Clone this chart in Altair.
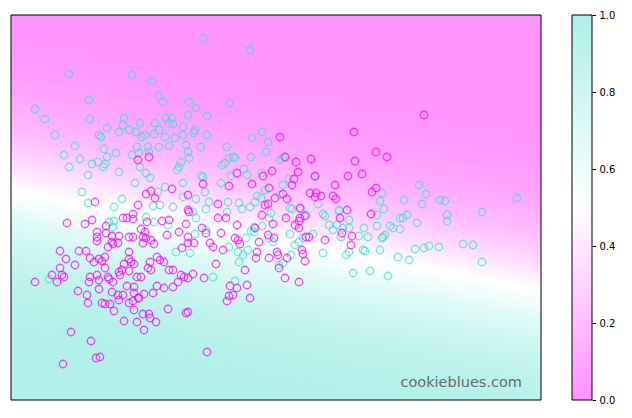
import altair as alt
import pandas as pd

# Plot extent (arbitrary units, no axes shown)
x_domain = [0, 530]
y_domain = [0, 385]

# Class "turquoise" points
turq_x = [58,121,141,78,148,152,178,24,34,79,113,112,96,129,144,155,161,158,162,177,172,118,108,125,148,134,131,143,154,164,172,44,88,90,64,93,105,126,137,148,158,175,121,128,138,177,53,69,96,87,81,94,92,58,108,77,129,135,139,124,170,168,166,178,172,71,77,111,103,142,149,154,162,147,172,
          192,239,185,196,219,184,183,196,251,241,257,190,216,255,218,222,224,214,211,240,269,272,233,236,220,190,192,194,210,251,272,278,304,246,254,244,250,269,185,198,217,228,239,307,279,290,328,
          371,369,373,393,408,415,411,429,434,506,471,
          366,436,436,353,366,379,382,389,389,392,396,406,357,372,374,371,352,354,369,387,398,404,413,418,428,452,462,471,359,377,
          185,182,195,216,231,260,258,281,295,312,314,328,338,318,322,326,332,338,348,330,338,335,342,312,302,292,288,284,279,251,243,243,240,258,262,235,218,227,232,228,237,280,272,268,224,195,184,179,202,
          98,103,102,135,143,157,165,38]
turq_y = [326,325,319,300,304,298,298,291,281,281,282,275,272,277,277,282,282,277,276,285,273,270,268,268,270,265,263,266,263,262,265,265,265,263,254,251,247,253,253,253,254,255,245,247,248,248,245,241,243,238,236,236,233,233,228,225,233,227,222,217,238,233,230,242,217,208,197,201,193,194,195,213,193,208,203,
          362,350,292,284,297,270,267,265,268,262,258,253,253,248,242,243,242,237,235,243,240,242,231,225,224,224,223,208,217,227,215,221,223,204,210,198,202,205,201,198,198,197,193,196,192,191,190,
          207,199,191,200,215,206,196,200,199,202,188,
          185,185,179,172,174,174,172,171,182,182,185,177,163,163,165,162,150,149,150,143,140,151,152,154,153,156,155,138,129,124,
          182,188,191,188,191,187,182,191,185,186,184,189,180,175,170,175,172,172,164,163,148,145,127,147,166,162,158,155,166,174,173,168,169,162,158,162,153,148,145,138,150,145,137,135,119,170,166,147,123,
          178,179,173,183,178,175,148,121]

# Class "magenta" points
mag_x = [127,138,135,140,144,161,177,84,127,177,
         269,343,274,285,300,344,226,261,252,287,283,281,304,337,351,192,218,241,324,258,299,305,310,304,322,325,264,276,272,207,254,257,289,336,
         413,365,376,365,361,360,
         178,207,215,251,275,294,289,288,284,288,329,331,341,340,314,295,298,291,292,294,262,244,257,263,226,224,227,229,246,248,245,258,266,267,276,268,274,288,234,219,226,236,239,222,218,216,205,212,199,202,210,195,191,183,177,177,182,193,177,177,175,196,
         56,74,81,95,112,116,122,122,136,151,158,130,134,132,135,140,132,143,156,168,175,171,86,86,86,95,101,108,101,97,102,107,94,118,122,118,49,68,75,55,64,49,79,88,91,83,94,118,120,123,113,111,108,118,109,139,137,140,146,149,153,158,162,170,173,41,51,53,46,24,79,78,86,88,97,98,102,116,123,130,126,88,101,107,108,112,123,127,133,142,146,153,162,167,67,76,77,91,94,99,103,118,122,123,128,132,138,139,145,126,113,133,157,60,80,85,89,52]
mag_y = [240,243,206,209,202,211,205,198,195,190,
         263,268,243,238,241,239,227,229,224,228,221,215,224,224,226,216,214,216,215,212,207,207,204,203,204,201,202,201,206,196,195,196,192,190,
         285,248,243,212,208,186,
         188,182,182,185,182,184,182,179,175,172,182,167,164,155,160,163,163,150,146,139,176,172,165,162,175,162,160,156,148,158,142,142,148,145,142,132,122,118,130,114,112,115,102,105,104,99,136,150,157,153,167,167,172,157,163,157,126,122,122,88,87,48,
         177,176,180,174,182,182,181,186,178,179,180,171,168,163,162,160,157,156,165,168,176,152,168,163,159,167,164,164,158,153,156,157,143,163,163,148,149,149,149,141,135,132,142,141,139,138,132,141,138,136,136,130,128,129,125,138,132,130,143,140,138,130,130,125,123,125,125,123,118,118,123,118,125,120,123,121,118,114,113,123,123,111,108,105,100,105,107,102,106,107,114,112,113,118,109,105,97,97,96,96,89,97,99,90,102,86,86,82,78,78,79,70,91,68,59,42,43,36]

turq = pd.DataFrame({"x": turq_x, "y": turq_y})
mag = pd.DataFrame({"x": mag_x, "y": mag_y})
frame = pd.DataFrame({"x0": [x_domain[0]], "x1": [x_domain[1]], "y0": [y_domain[0]], "y1": [y_domain[1]]})

xs = alt.Scale(domain=x_domain, nice=False, zero=False)
ys = alt.Scale(domain=y_domain, nice=False, zero=False)

# probability background (pink = 0, white = 0.5, turquoise = 1)
bg_stops = [
    ("#FF96FF", 0.0), ("#FF9BFF", 0.1), ("#FFA6FF", 0.2), ("#FFB9FF", 0.3), ("#FFD7FF", 0.4),
    ("#FFFFFF", 0.5), ("#E1FAF7", 0.6), ("#CAF6F0", 0.7), ("#BCF3EC", 0.8), ("#B4F1EA", 0.9),
    ("#B0F1E9", 1.0),
]
bg_grad = alt.Gradient(
    gradient="linear",
    stops=[alt.GradientStop(color=c, offset=o) for c, o in bg_stops],
    x1=0.5965, y1=0.2131, x2=0.4035, y2=0.9559,
)

enc_frame = dict(
    x=alt.X("x0:Q", scale=xs, axis=None), x2="x1",
    y=alt.Y("y0:Q", scale=ys, axis=None), y2="y1",
)
background = alt.Chart(frame).mark_rect(fill=bg_grad).encode(**enc_frame)
border = alt.Chart(frame).mark_rect(fill="transparent", stroke="black", strokeWidth=1).encode(**enc_frame)

pt = dict(shape="circle", filled=False, size=56, strokeWidth=1.3)
turq_layer = alt.Chart(turq).mark_point(color="#40E0D0", **pt).encode(
    x=alt.X("x:Q", scale=xs, axis=None), y=alt.Y("y:Q", scale=ys, axis=None))
mag_layer = alt.Chart(mag).mark_point(color="#FF00FF", **pt).encode(
    x=alt.X("x:Q", scale=xs, axis=None), y=alt.Y("y:Q", scale=ys, axis=None))

watermark = alt.Chart(frame).mark_text(
    text="cookieblues.com", align="right", baseline="alphabetic",
    font="DejaVu Sans", fontSize=14.5, color="#6b6b6b",
).encode(x=alt.value(511), y=alt.value(372))

main = alt.layer(background, turq_layer, mag_layer, watermark, border).properties(width=530, height=385)

cb_df = pd.DataFrame({"lo": [0.0], "hi": [1.0]})
cb_grad = alt.Gradient(
    gradient="linear",
    stops=[alt.GradientStop(color="#FF91FF", offset=0.0),
           alt.GradientStop(color="#FFFFFF", offset=0.5),
           alt.GradientStop(color="#ACF0E8", offset=1.0)],
    x1=0, y1=1, x2=0, y2=0,
)
cb_y = alt.Y("lo:Q", scale=alt.Scale(domain=[0, 1], nice=False),
             axis=alt.Axis(orient="right", values=[0, 0.2, 0.4, 0.6, 0.8, 1.0], format=".1f",
                           tickSize=3.5, labelPadding=3.5, domain=False, grid=False, title=None,
                           labelFont="DejaVu Sans", labelFontSize=10, labelColor="black",
                           tickColor="black", tickWidth=1))
cb_fill = alt.Chart(cb_df).mark_rect(fill=cb_grad).encode(
    x=alt.value(0), x2=alt.value(20), y=cb_y, y2="hi")
cb_border = alt.Chart(cb_df).mark_rect(fill="transparent", stroke="black", strokeWidth=1).encode(
    x=alt.value(0), x2=alt.value(20), y="lo:Q", y2="hi")
colorbar = alt.layer(cb_fill, cb_border).properties(width=20, height=385)

chart = alt.hconcat(main, colorbar, spacing=29).properties(
    padding={"left": 2, "top": 2, "right": 0, "bottom": 0}
).configure_view(strokeWidth=0)

chart.save("out.html", embed_options={"renderer": "svg", "actions": False})
